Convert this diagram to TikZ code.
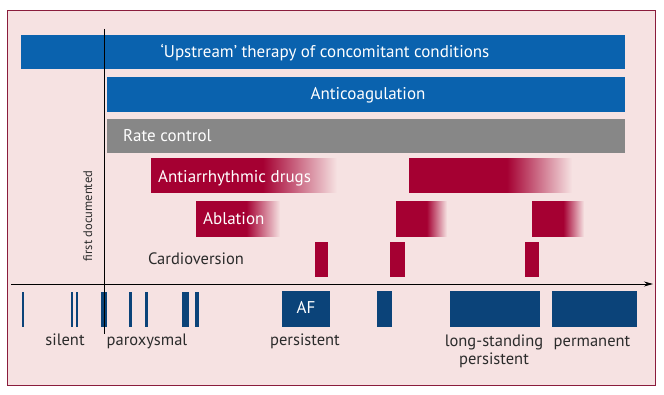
\documentclass[tikz,border=0pt]{standalone}
\usepackage{fontspec}
\setmainfont{PT Sans}
\usetikzlibrary{arrows.meta}
\definecolor{bgpink}{HTML}{F6E2E2}
\definecolor{frameR}{HTML}{8A1C3C}
\definecolor{barblue}{HTML}{0A62AE}
\definecolor{bargray}{HTML}{878787}
\definecolor{barred}{HTML}{A50032}
\definecolor{navy}{HTML}{0B4379}
\definecolor{labtext}{HTML}{2B2B2B}
\pgfdeclarehorizontalshading{redfade}{100bp}{color(0bp)=(barred); color(55bp)=(barred); color(75bp)=(bgpink); color(100bp)=(bgpink)}
\tikzset{
  bartext/.style={text=white,font=\fontsize{17}{19}\selectfont,inner sep=0pt},
  lowtext/.style={text=labtext,font=\fontsize{16.5}{18}\selectfont,inner sep=0pt},
  fadebar/.style={shading=redfade,draw=none},
}
\begin{document}
\begin{tikzpicture}[x=1pt,y=-1pt]
\useasboundingbox (0,0) rectangle (664,395);
\fill[white] (0,0) rectangle (664,395);
\draw[frameR,fill=bgpink,line width=1pt] (7,11) rectangle (655,385);
% top bars
\fill[barblue] (21,35) rectangle (625,69);
\node[bartext,anchor=base] (ups) at (325,58) {‘Upstream’ therapy of concomitant conditions};
\fill[barblue] (107,77) rectangle (625,112);
\node[bartext,anchor=base] (anti) at (368,100) {Anticoagulation};
\fill[bargray] (107,119) rectangle (625,153);
\node[bartext,anchor=base west] (rate) at (123,142) {Rate control};
% antiarrhythmic drugs
\shade[fadebar] (151,159) rectangle (337,193);
\node[bartext,anchor=base west] (aad) at (158,183) {Antiarrhythmic drugs};
\shade[fadebar] (409,159) rectangle (572,193);
% ablation
\shade[fadebar] (196,202) rectangle (280,237);
\node[bartext,anchor=base west] (abl) at (203,225) {Ablation};
\shade[fadebar] (396,202) rectangle (447,237);
\shade[fadebar] (532,202) rectangle (584,237);
% cardioversion
\node[lowtext,anchor=base] (cv) at (196,265) {Cardioversion};
\fill[barred] (315,242) rectangle (328,277);
\fill[barred] (390,242) rectangle (405,277);
\fill[barred] (525,242) rectangle (539,277);
% axes
\coordinate (ax0) at (11,284);
\coordinate (ax1) at (653,284);
\draw[line width=0.8pt,-{Stealth[length=9pt,width=5pt]}] (ax0) -- (ax1);
\coordinate (v0) at (104,29);
\coordinate (v1) at (104,334);
\draw[line width=0.7pt] (v0) -- (v1);
\node[lowtext,font=\fontsize{12.5}{14}\selectfont,rotate=90,anchor=base] (fd) at (92,216) {first documented};
% episodes
\fill[navy] (21.5,292) rectangle (23.5,327);
\fill[navy] (71,292) rectangle (73,327);
\fill[navy] (76,292) rectangle (78,327);
\fill[navy] (101,292) rectangle (107,327);
\fill[navy] (129,292) rectangle (131.5,327);
\fill[navy] (145,292) rectangle (147.5,327);
\fill[navy] (182,292) rectangle (189,327);
\fill[navy] (195,292) rectangle (199,327);
\fill[navy] (282,291) rectangle (330,327);
\node[bartext,anchor=base] (af) at (306,313) {AF};
\fill[navy] (377,291) rectangle (392,327);
\fill[navy] (450,291) rectangle (540,327);
\fill[navy] (552,291) rectangle (637,327);
\draw[line width=0.7pt] (104,284) -- (v1);
% labels
\node[lowtext,anchor=base] (sil) at (65,345) {silent};
\node[lowtext,anchor=base] (par) at (147,345) {paroxysmal};
\node[lowtext,anchor=base] (per) at (305,345.5) {persistent};
\node[lowtext,anchor=base] (ls) at (494,346.5) {long-standing};
\node[lowtext,anchor=base] (ls2) at (494,364) {persistent};
\node[lowtext,anchor=base] (perm) at (592,346.5) {permanent};
\end{tikzpicture}
\end{document}
